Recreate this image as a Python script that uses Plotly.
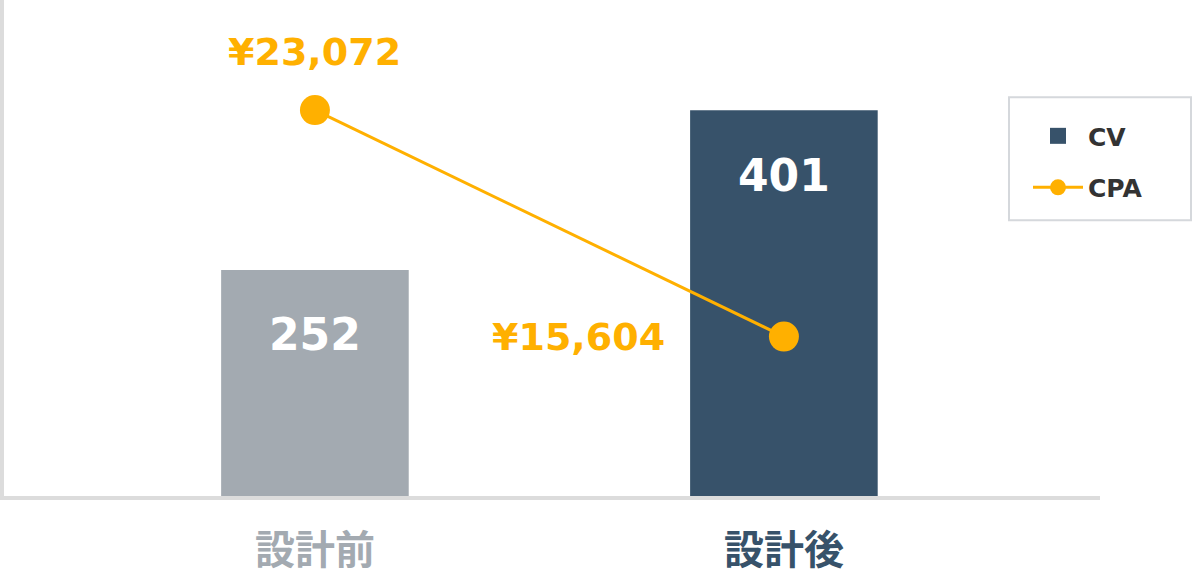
import plotly.graph_objects as go

# data
categories = ['設計前', '設計後']
cv_values = [252, 401]
cpa_values = [23072, 15604]
cpa_labels = ['¥23,072', '¥15,604']

bar_colors = ['#a3aab1', '#37526a']
cpa_color = '#ffb000'
axis_color = '#dcdcdc'
num_font = 'DejaVu Sans'

fig = go.Figure()

fig.add_trace(go.Bar(
    x=categories, y=cv_values,
    marker=dict(color=bar_colors, line=dict(width=0)),
    width=0.4, showlegend=False, hoverinfo='skip',
))

# legend-only entry so the CV swatch uses the dark bar colour
fig.add_trace(go.Scatter(
    x=[None], y=[None], mode='markers', name='CV',
    marker=dict(symbol='square', size=16, color=bar_colors[1]),
    legendgroup='cv',
))

fig.add_trace(go.Scatter(
    x=categories, y=cpa_values, name='CPA', yaxis='y2',
    mode='lines+markers',
    line=dict(color=cpa_color, width=3),
    marker=dict(size=30, color=cpa_color),
    legendgroup='cpa',
))

# value labels inside the bars
for cat, v in zip(categories, cv_values):
    fig.add_annotation(
        x=cat, y=v, xref='x', yref='y', text=str(v), showarrow=False,
        yshift=-65, font=dict(family=num_font, size=44, color='white', weight='bold'),
    )

# CPA labels
fig.add_annotation(
    x=categories[0], y=cpa_values[0], xref='x', yref='y2', text=cpa_labels[0],
    showarrow=False, yshift=58,
    font=dict(family=num_font, size=38, color=cpa_color, weight='bold'),
)
fig.add_annotation(
    x=categories[1], y=cpa_values[1], xref='x', yref='y2', text=cpa_labels[1],
    showarrow=False, xanchor='right', xshift=-117,
    font=dict(family=num_font, size=38, color=cpa_color, weight='bold'),
)

# legend frame
fig.add_shape(
    type='rect', xref='paper', yref='paper',
    x0=(1009 - 4) / 1096, x1=(1191 - 4) / 1096, y0=(500 - 222) / 500, y1=(500 - 98) / 500,
    line=dict(color='#d5d8dc', width=2), fillcolor='rgba(0,0,0,0)',
)

ticktext = [f'<span style="color:{c}">{cat}</span>' for cat, c in zip(categories, bar_colors)]

fig.update_layout(
    width=1194, height=576,
    margin=dict(l=4, r=94, t=0, b=76),
    paper_bgcolor='white', plot_bgcolor='white',
    xaxis=dict(
        type='category', range=[-0.663, 1.674],
        tickvals=categories, ticktext=ticktext,
        showline=True, linecolor=axis_color, linewidth=4,
        showgrid=False, zeroline=False, ticks='', ticklabelstandoff=16,
        tickfont=dict(family='Noto Sans CJK JP', size=40, weight='bold'),
    ),
    yaxis=dict(
        range=[41, 504], showline=True, linecolor=axis_color, linewidth=4,
        showgrid=False, zeroline=False, showticklabels=False, ticks='',
    ),
    yaxis2=dict(
        range=[10347, 26703], overlaying='y', side='right',
        showgrid=False, zeroline=False, showticklabels=False, showline=False,
    ),
    legend=dict(
        x=(1028 - 4) / 1096, y=(500 - 114) / 500, xanchor='left', yanchor='top',
        bgcolor='rgba(0,0,0,0)', borderwidth=0,
        font=dict(family=num_font, size=25, color='#333333', weight='bold'),
        traceorder='grouped', tracegroupgap=16, itemwidth=50,
    ),
    showlegend=True,
)

fig.write_html(
    'out.html',
    config={'displayModeBar': False},
    post_script="document.body.style.margin='0';document.body.style.overflow='hidden';",
)
